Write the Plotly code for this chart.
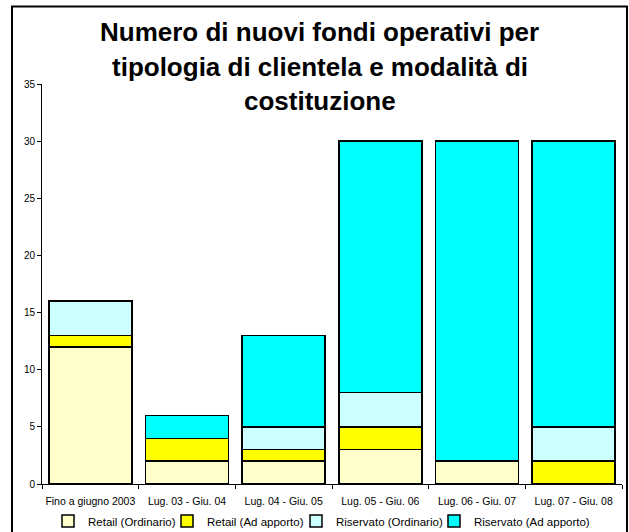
import plotly.graph_objects as go

categories = ["Fino a giugno 2003", "Lug. 03 - Giu. 04", "Lug. 04 - Giu. 05",
              "Lug. 05 - Giu. 06", "Lug. 06 - Giu. 07", "Lug. 07 - Giu. 08"]
retail_ordinario = [12, 2, 2, 3, 2, 0]
retail_ad_apporto = [1, 2, 1, 2, 0, 2]
riservato_ordinario = [3, 0, 2, 3, 0, 3]
riservato_ad_apporto = [0, 2, 8, 22, 28, 25]

series_names = ["Retail (Ordinario)", "Retail (Ad apporto)",
                "Riservato (Ordinario)", "Riservato (Ad apporto)"]
series_values = [retail_ordinario, retail_ad_apporto,
                 riservato_ordinario, riservato_ad_apporto]
series_colors = ["#FFFFCC", "#FFFF00", "#CCFFFF", "#00FFFF"]

title_lines = ["Numero di nuovi fondi operativi per",
               "tipologia di clientela e modalità di",
               "costituzione"]

FONT = "Arial, Liberation Sans, sans-serif"

# legend entry left positions in pixels (layout only)
legend_left_px = [48, 167, 296, 434]

fig = go.Figure()
legend_ids = ["legend", "legend2", "legend3", "legend4"]
for name, vals, col, lid in zip(series_names, series_values, series_colors, legend_ids):
    fig.add_trace(go.Bar(
        x=categories, y=vals, name=name, legend=lid, showlegend=True,
        marker=dict(color=col, line=dict(color="black", width=1.5)),
    ))

annotations = []
for line, yp in zip(title_lines, [1.13, 1.0425, 0.9575]):
    annotations.append(dict(
        text="<b>%s</b>" % line, xref="paper", yref="paper",
        x=0.479, y=yp, xanchor="center", yanchor="middle", showarrow=False,
        font=dict(family=FONT, size=26, color="black"),
    ))

legend_layout = {}
for lid, px in zip(legend_ids, legend_left_px):
    legend_layout[lid] = dict(
        orientation="h", x=px / 629.0, xanchor="left", xref="container",
        y=(532 - 521) / 532.0, yanchor="middle", yref="container",
        font=dict(family=FONT, size=11.5, color="black"),
        bgcolor="rgba(0,0,0,0)",
    )

fig.update_layout(
    width=629, height=532, showlegend=True,
    barmode="stack", bargap=0.14,
    paper_bgcolor="white", plot_bgcolor="white",
    margin=dict(l=42, r=7, t=84, b=48, autoexpand=False),
    font=dict(family=FONT, color="black", size=11),
    annotations=annotations,
    xaxis=dict(
        showline=True, linecolor="black", linewidth=1,
        ticks="outside", tickson="boundaries", ticklen=4, tickcolor="black",
        showgrid=False, tickfont=dict(size=10.5), tickangle=0, automargin=False,
        ticklabelstandoff=7,
    ),
    yaxis=dict(
        range=[0, 35], dtick=5, showline=True, linecolor="black", linewidth=1,
        ticks="outside", ticklen=4, tickcolor="black", showgrid=False,
        zeroline=False, tickfont=dict(size=10), automargin=False,
    ),
    shapes=[dict(
        type="rect", xref="paper", yref="paper",
        x0=-0.0517, x1=1.0086, y0=-0.2, y1=1.194,
        line=dict(color="black", width=2), fillcolor="rgba(0,0,0,0)", layer="above",
    )],
    **legend_layout,
)

fig.write_html("out.html", config={"displayModeBar": False},
               post_script="document.body.style.margin='0';")
